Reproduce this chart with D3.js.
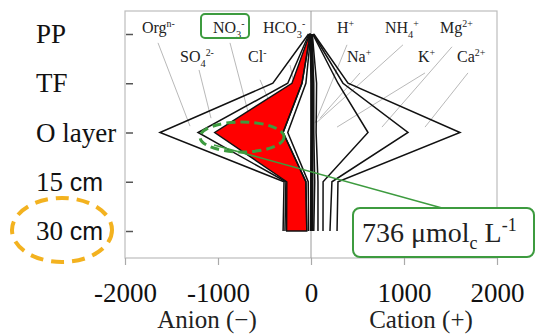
<!DOCTYPE html>
<html>
<head>
<meta charset="utf-8">
<script src="https://cdn.jsdelivr.net/npm/d3@7"></script>
<style>
  body { margin: 0; background: #fff; }
  svg { display: block; font-family: "Liberation Serif", "Times New Roman", serif; }
</style>
</head>
<body>
<div id="chart"></div>
<script>
const width = 537;
const height = 334;

// sampling levels, top to bottom
const depths = ["PP", "TF", "O layer", "15 cm", "30 cm"];

// anions (umolc/L), stacked from the zero line outward to the left
const anionKeys = ["HCO3", "Cl", "NO3", "SO4", "Org"];
const hco3 = [2, 55, 250, 30, 25];
const cl   = [6, 42, 50, 25, 20];
const no3  = [6, 108, 736, 205, 217];
const so4  = [8, 45, 179, 10, 18];
const org  = [4, 160, 409, 20, 20];

// cations (umolc/L), stacked from the zero line outward to the right
const cationKeys = ["H", "Na", "NH4", "K", "Mg", "Ca"];
const hIon = [3, 10, 10, 8, 8];
const na   = [5, 20, 20, 32, 22];
const nh4  = [6, 30, 25, 35, 45];
const k    = [4, 230, 558, 55, 54];
const mg   = [6, 54, 430, 95, 75];
const ca   = [6, 54, 559, 65, 76];

const xTicks = [-2000, -1000, 0, 1000, 2000];

// ion names as base / subscript / superscript
const ionNames = {
  Org:  { base: "Org", sup: "n-" },
  NO3:  { base: "NO", sub: "3", sup: "-" },
  HCO3: { base: "HCO", sub: "3", sup: "-" },
  SO4:  { base: "SO", sub: "4", sup: "2-" },
  Cl:   { base: "Cl", sup: "-" },
  H:    { base: "H", sup: "+" },
  NH4:  { base: "NH", sub: "4", sup: "+" },
  Mg:   { base: "Mg", sup: "2+" },
  Na:   { base: "Na", sup: "+" },
  K:    { base: "K", sup: "+" },
  Ca:   { base: "Ca", sup: "2+" }
};

// where each ion label sits and where its leader line points (value, depth index)
const labelSpots = [
  { key: "Org",  tx: 142, ty: 33, from: [-1645, 0.18], to: [-1301, 1.87] },
  { key: "NO3",  tx: 213, ty: 33, from: [-871, 0.18],  to: [-677, 1.58] },
  { key: "HCO3", tx: 263, ty: 33, from: [-226, 0.63],  to: [-183, 1.0] },
  { key: "SO4",  tx: 180, ty: 62, from: [-1204, 0.73], to: [-1075, 1.71] },
  { key: "Cl",   tx: 248, ty: 62, from: [-548, 0.93],  to: [-398, 1.6] },
  { key: "H",    tx: 337, ty: 33, from: [387, 0.22],   to: [43, 1.81] },
  { key: "NH4",  tx: 385, ty: 33, from: [989, 0.22],   to: [65, 1.79] },
  { key: "Mg",   tx: 440, ty: 33, from: [1516, 0.26],  to: [763, 1.89] },
  { key: "Na",   tx: 347, ty: 62, from: [527, 0.79],   to: [97, 1.71] },
  { key: "K",    tx: 418, ty: 62, from: [1226, 0.79],  to: [280, 1.89] },
  { key: "Ca",   tx: 457, ty: 62, from: [1688, 0.79],  to: [1226, 1.89] }
];

const plotTop = 11, plotBottom = 258;
const green = "#3d9b3f";
const serif = "'Liberation Serif', 'Times New Roman', serif";

const svg = d3.select("#chart")
    .append("svg")
    .attr("width", width)
    .attr("height", height);

const x = d3.scaleLinear().domain([-2000, 2000]).range([125, 497]);
const y = d3.scalePoint().domain(depths).range([34, 231]);
const yIdx = d3.scaleLinear().domain([0, depths.length - 1]).range([34, 231]);

// rows per depth
const rows = depths.map((d, i) => ({
  depth: d,
  HCO3: hco3[i], Cl: cl[i], NO3: no3[i], SO4: so4[i], Org: org[i],
  H: hIon[i], Na: na[i], NH4: nh4[i], K: k[i], Mg: mg[i], Ca: ca[i]
}));

const anionStack = d3.stack().keys(anionKeys)(rows);
const cationStack = d3.stack().keys(cationKeys)(rows);

// frame and zero line
svg.append("rect")
    .attr("x", x(-2000)).attr("y", plotTop)
    .attr("width", x(2000) - x(-2000)).attr("height", plotBottom - plotTop)
    .attr("fill", "none").attr("stroke", "#bdbdbd").attr("stroke-width", 1.2);

svg.append("line")
    .attr("x1", x(0)).attr("x2", x(0))
    .attr("y1", plotTop).attr("y2", plotBottom)
    .attr("stroke", "#9a9a9a").attr("stroke-width", 1);

// x axis
const xAxis = svg.append("g")
    .attr("transform", `translate(0,${plotBottom})`)
    .call(d3.axisBottom(x).tickValues(xTicks).tickSize(7).tickPadding(18).tickFormat(d => String(d)));
xAxis.select(".domain").remove();
xAxis.selectAll(".tick line").attr("stroke", "#aaa").attr("stroke-width", 1.2);
xAxis.selectAll(".tick text")
    .attr("font-size", 27).attr("fill", "#111")
    .attr("font-family", serif);

// y axis (ticks sit just inside the frame, labels flush left)
const yAxis = svg.append("g")
    .attr("transform", "translate(133,0)")
    .call(d3.axisLeft(y).tickSize(7));
yAxis.select(".domain").remove();
yAxis.selectAll(".tick line").attr("stroke", "#555").attr("stroke-width", 1.5);
yAxis.selectAll(".tick text")
    .attr("x", 36 - 133)
    .attr("text-anchor", "start")
    .attr("font-size", 27).attr("fill", "#111")
    .attr("font-family", serif)
    .each(function(d) {
      if (d.endsWith(" cm")) {
        const t = d3.select(this).text(d.replace(" cm", " "));
        t.append("tspan").attr("font-family", "'Liberation Sans', Arial, sans-serif")
            .attr("font-size", 25).text("cm");
      }
    });

// leader lines
svg.append("g").selectAll("line")
    .data(labelSpots)
    .enter()
    .append("line")
    .attr("x1", d => x(d.from[0])).attr("y1", d => yIdx(d.from[1]))
    .attr("x2", d => x(d.to[0])).attr("y2", d => yIdx(d.to[1]))
    .attr("stroke", "#b0b0b0").attr("stroke-width", 0.9);

// NO3 band in red
const no3Layer = anionStack.find(s => s.key === "NO3");
const band = d3.area()
    .y((d, i) => y(depths[i]))
    .x0(d => x(-d[0]))
    .x1(d => x(-d[1]));
svg.append("path")
    .datum(no3Layer)
    .attr("d", band)
    .attr("fill", "#ff0000")
    .attr("stroke", "#111").attr("stroke-width", 1.4).attr("stroke-linejoin", "miter");

// cumulative outlines
const anionLine = d3.line()
    .x(d => x(-d[1]))
    .y((d, i) => y(depths[i]));
const cationLine = d3.line()
    .x(d => x(d[1]))
    .y((d, i) => y(depths[i]));

svg.append("g").selectAll("path")
    .data(anionStack.filter(s => s.key !== "NO3"))
    .enter()
    .append("path")
    .attr("d", anionLine)
    .attr("fill", "none").attr("stroke", "#111").attr("stroke-width", 1.5);

svg.append("g").selectAll("path")
    .data(cationStack)
    .enter()
    .append("path")
    .attr("d", cationLine)
    .attr("fill", "none").attr("stroke", "#111")
    .attr("stroke-width", d => d.key === "H" ? 3.5 : 1.5);

// ion labels
function writeIon(sel, name, size) {
  sel.append("tspan").text(name.base);
  let down = 0;
  if (name.sub) {
    down = size * 0.3;
    sel.append("tspan").attr("dy", down).attr("font-size", size * 0.65).text(name.sub);
  }
  if (name.sup) {
    sel.append("tspan").attr("dy", -down - size * 0.4).attr("font-size", size * 0.62).text(name.sup);
  }
}

svg.append("g").selectAll("text")
    .data(labelSpots)
    .enter()
    .append("text")
    .attr("x", d => d.tx).attr("y", d => d.ty)
    .attr("font-size", 16).attr("fill", "#222")
    .attr("font-family", serif)
    .each(function(d) { writeIon(d3.select(this), ionNames[d.key], 16); });

// green box round the NO3 label
svg.append("rect")
    .attr("x", 201).attr("y", 14).attr("width", 48).attr("height", 24).attr("rx", 4)
    .attr("fill", "none").attr("stroke", green).attr("stroke-width", 2);

// dashed ellipse on the O layer NO3 bulge, with callout
svg.append("ellipse")
    .attr("cx", 242).attr("cy", 137).attr("rx", 42).attr("ry", 15)
    .attr("fill", "none").attr("stroke", green).attr("stroke-width", 3)
    .attr("stroke-dasharray", "9,5");

svg.append("line")
    .attr("x1", 214).attr("y1", 145).attr("x2", 442).attr("y2", 208)
    .attr("stroke", green).attr("stroke-width", 1.5);

svg.append("rect")
    .attr("x", 353).attr("y", 208).attr("width", 181).attr("height", 49).attr("rx", 7)
    .attr("fill", "#fff").attr("stroke", green).attr("stroke-width", 2);

const callout = svg.append("text")
    .attr("x", 362).attr("y", 242)
    .attr("font-family", serif)
    .attr("font-size", 28).attr("fill", "#222");
callout.append("tspan").text("736 \u03bcmol");
callout.append("tspan").attr("dy", 7).attr("font-size", 18).text("c");
callout.append("tspan").attr("dy", -7).text(" L");
callout.append("tspan").attr("dy", -11).attr("font-size", 18).text("-1");

// orange ring round "30 cm"
svg.append("ellipse")
    .attr("cx", 62).attr("cy", 230).attr("rx", 50).attr("ry", 32)
    .attr("fill", "none").attr("stroke", "#f3b21f").attr("stroke-width", 4)
    .attr("stroke-dasharray", "13,8");

// axis titles
svg.append("text")
    .attr("x", x(-1000) - 11).attr("y", 328)
    .attr("text-anchor", "middle").attr("font-size", 25).attr("fill", "#222")
    .attr("font-family", serif)
    .text("Anion (\u2212)");
svg.append("text")
    .attr("x", x(1000) + 17).attr("y", 328)
    .attr("text-anchor", "middle").attr("font-size", 25).attr("fill", "#222")
    .attr("font-family", serif)
    .text("Cation (+)");
</script>
</body>
</html>
